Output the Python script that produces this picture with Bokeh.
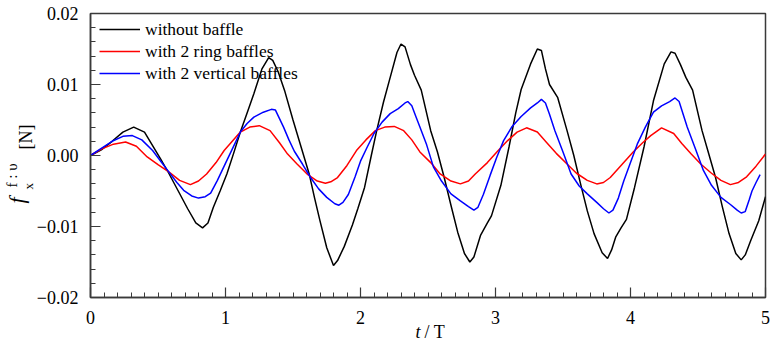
from bokeh.plotting import figure
from bokeh.models import (ColumnDataSource, FixedTicker, Legend, LegendItem, Range1d, Title)
from bokeh.embed import file_html
from bokeh.resources import INLINE

# ---- data ----
t_black = [0.00, 0.08, 0.16, 0.24, 0.32, 0.40, 0.46, 0.52, 0.58, 0.65, 0.72, 0.78, 0.83, 0.87, 0.91, 0.96,
           1.01, 1.06, 1.11, 1.16, 1.21, 1.27, 1.32, 1.35, 1.39, 1.44, 1.50, 1.56, 1.62, 1.66, 1.70, 1.75,
           1.80, 1.83, 1.88, 1.94, 1.98, 2.03, 2.08, 2.12, 2.17, 2.22, 2.27, 2.30, 2.33, 2.37, 2.40, 2.45,
           2.52, 2.57, 2.62, 2.67, 2.72, 2.77, 2.81, 2.84, 2.89, 2.94, 2.97, 3.04, 3.10, 3.15, 3.19, 3.26,
           3.31, 3.34, 3.37, 3.40, 3.46, 3.53, 3.58, 3.63, 3.68, 3.73, 3.79, 3.83, 3.86, 3.89, 3.93, 3.97,
           4.03, 4.10, 4.17, 4.25, 4.30, 4.33, 4.37, 4.41, 4.46, 4.53, 4.58, 4.63, 4.68, 4.73, 4.78, 4.82,
           4.85, 4.89, 4.95, 5.00]
f_black = [0.0, 0.0008, 0.0020, 0.0033, 0.0040, 0.0033, 0.0014, -0.0005, -0.0025, -0.0050, -0.0075, -0.0095,
           -0.0102, -0.0095, -0.0073, -0.0050, -0.0026, 0.0003, 0.0033, 0.0060, 0.0087, 0.0122, 0.0138, 0.0134,
           0.0118, 0.0090, 0.0050, 0.0012, -0.0026, -0.0060, -0.0092, -0.0130, -0.0155, -0.0148, -0.0128,
           -0.0098, -0.0075, -0.0045, 0.0000, 0.0035, 0.0075, 0.0110, 0.0145, 0.0157, 0.0153, 0.0128, 0.0113,
           0.0092, 0.0035, 0.0005, -0.0031, -0.0070, -0.0108, -0.0138, -0.0150, -0.0143, -0.0112, -0.0095,
           -0.0085, -0.0042, 0.0012, 0.0060, 0.0093, 0.0129, 0.0150, 0.0148, 0.0122, 0.0100, 0.0082, 0.0035,
           0.0000, -0.0040, -0.0078, -0.0110, -0.0137, -0.0145, -0.0133, -0.0115, -0.0102, -0.0090, -0.0045,
           0.0012, 0.0077, 0.0129, 0.0146, 0.0144, 0.0128, 0.0110, 0.0092, 0.0035, 0.0002, -0.0031, -0.0072,
           -0.0110, -0.0138, -0.0147, -0.0140, -0.0120, -0.0092, -0.0058]

t_ring = [0.00, 0.08, 0.17, 0.26, 0.34, 0.42, 0.50, 0.58, 0.66, 0.74, 0.80, 0.86, 0.93, 0.99, 1.05, 1.11,
          1.18, 1.25, 1.33, 1.40, 1.46, 1.53, 1.61, 1.68, 1.74, 1.78, 1.83, 1.90, 1.97, 2.04, 2.11, 2.18,
          2.25, 2.32, 2.38, 2.44, 2.52, 2.59, 2.67, 2.74, 2.80, 2.85, 2.94, 3.02, 3.09, 3.16, 3.23, 3.31,
          3.38, 3.45, 3.53, 3.60, 3.68, 3.75, 3.80, 3.85, 3.94, 4.02, 4.09, 4.15, 4.23, 4.32, 4.38, 4.45,
          4.52, 4.60, 4.67, 4.74, 4.80, 4.86, 4.93, 5.00]
f_ring = [0.0, 0.0009, 0.0016, 0.0019, 0.0013, -0.0002, -0.0013, -0.0023, -0.0035, -0.0041, -0.0036, -0.0026,
          -0.0010, 0.0007, 0.0020, 0.0033, 0.0040, 0.0042, 0.0035, 0.0018, 0.0002, -0.0012, -0.0027, -0.0036,
          -0.0039, -0.0037, -0.0031, -0.0014, 0.0007, 0.0022, 0.0035, 0.0040, 0.0041, 0.0035, 0.0022, 0.0005,
          -0.0010, -0.0026, -0.0036, -0.0040, -0.0036, -0.0026, -0.0010, 0.0007, 0.0021, 0.0033, 0.0039,
          0.0033, 0.0018, 0.0003, -0.0012, -0.0025, -0.0035, -0.0040, -0.0038, -0.0031, -0.0012, 0.0005,
          0.0018, 0.0028, 0.0039, 0.0031, 0.0017, 0.0002, -0.0012, -0.0025, -0.0035, -0.0041, -0.0038,
          -0.0030, -0.0015, 0.0002]

t_vert = [0.00, 0.08, 0.16, 0.24, 0.31, 0.38, 0.46, 0.52, 0.58, 0.64, 0.69, 0.75, 0.80, 0.85, 0.89, 0.94,
          0.99, 1.05, 1.11, 1.16, 1.21, 1.28, 1.34, 1.37, 1.40, 1.43, 1.47, 1.51, 1.57, 1.63, 1.69, 1.75,
          1.81, 1.84, 1.87, 1.91, 1.96, 2.00, 2.05, 2.10, 2.16, 2.22, 2.28, 2.33, 2.35, 2.38, 2.41, 2.44,
          2.49, 2.54, 2.60, 2.67, 2.74, 2.80, 2.84, 2.87, 2.91, 2.96, 3.01, 3.06, 3.12, 3.19, 3.26, 3.31,
          3.34, 3.37, 3.40, 3.44, 3.50, 3.56, 3.62, 3.68, 3.75, 3.80, 3.84, 3.87, 3.91, 3.95, 4.00, 4.05,
          4.11, 4.17, 4.23, 4.29, 4.33, 4.36, 4.39, 4.42, 4.48, 4.54, 4.60, 4.67, 4.74, 4.79, 4.82, 4.85,
          4.88, 4.90, 4.93, 4.96]
f_vert = [0.0, 0.0010, 0.0020, 0.0027, 0.0028, 0.0022, 0.0007, -0.0008, -0.0023, -0.0038, -0.0049, -0.0057,
          -0.0060, -0.0058, -0.0053, -0.0035, -0.0015, 0.0009, 0.0033, 0.0045, 0.0054, 0.0061, 0.0065, 0.0064,
          0.0052, 0.0040, 0.0022, 0.0006, -0.0012, -0.0031, -0.0047, -0.0059, -0.0068, -0.0070, -0.0066,
          -0.0055, -0.0030, -0.0008, 0.0012, 0.0031, 0.0047, 0.0059, 0.0066, 0.0074, 0.0076, 0.0070, 0.0055,
          0.0040, 0.0015, -0.0016, -0.0036, -0.0054, -0.0064, -0.0072, -0.0077, -0.0073, -0.0055, -0.0028,
          -0.0002, 0.0021, 0.0040, 0.0055, 0.0067, 0.0074, 0.0079, 0.0074, 0.0058, 0.0035, 0.0005, -0.0026,
          -0.0043, -0.0054, -0.0066, -0.0075, -0.0081, -0.0077, -0.0060, -0.0036, -0.0010, 0.0016, 0.0040,
          0.0061, 0.0070, 0.0076, 0.0081, 0.0076, 0.0058, 0.0040, 0.0010, -0.0021, -0.0042, -0.0059, -0.0069,
          -0.0077, -0.0081, -0.0079, -0.0062, -0.0050, -0.0038, -0.0027]

series_names = ["without baffle", "with 2 ring baffles", "with 2 vertical baffles"]
series_colors = ["#000000", "#ff0000", "#0000ff"]

x_ticks = [0, 1, 2, 3, 4, 5]
x_minor = [i / 10 for i in range(0, 51)]
y_ticks = [-0.02, -0.01, 0.0, 0.01, 0.02]
y_tick_labels = ["\u22120.02", "\u22120.01", "0.00", "0.01", "0.02"]
y_minor = [round(-0.02 + 0.002 * i, 4) for i in range(0, 21)]

FONT = "Liberation Serif"
AX = "#3a3a3a"

p = figure(width=772, height=349, output_backend="svg", toolbar_location=None,
           x_range=Range1d(0, 5), y_range=Range1d(-0.02, 0.02),
           min_border_left=90, min_border_right=7, min_border_top=13, min_border_bottom=52)
p.background_fill_color = "white"
p.border_fill_color = "white"
p.outline_line_color = AX
p.outline_line_width = 1.5
p.xgrid.visible = False
p.ygrid.visible = False

renderers = []
for t, f, c in zip([t_black, t_ring, t_vert], [f_black, f_ring, f_vert], series_colors):
    src = ColumnDataSource(dict(t=t, f=f))
    r = p.line("t", "f", source=src, line_color=c, line_width=1.5)
    renderers.append(r)

# main axes styling
p.xaxis.ticker = FixedTicker(ticks=x_ticks, minor_ticks=x_minor)
p.yaxis.ticker = FixedTicker(ticks=y_ticks, minor_ticks=y_minor)
p.yaxis.major_label_overrides = {v: s for v, s in zip(y_ticks, y_tick_labels)}
for ax in (p.xaxis, p.yaxis):
    ax.axis_line_color = AX
    ax.axis_line_width = 1.5
    ax.major_tick_line_color = AX
    ax.minor_tick_line_color = AX
    ax.major_tick_line_width = 1.2
    ax.minor_tick_line_width = 1.0
    ax.major_tick_in = 10
    ax.major_tick_out = 0
    ax.minor_tick_in = 5
    ax.minor_tick_out = 0
    ax.major_label_text_font = FONT
    ax.major_label_text_font_size = "18px"
    ax.major_label_text_color = "black"
p.xaxis.major_label_standoff = 13
p.yaxis.major_label_standoff = 12


# axis-title pieces as side-panel titles (offset = position along the axis from its start)
def title_piece(side, text, size, offset, standoff, valign, italic=False):
    t = Title(text=text, align="left", offset=offset, standoff=standoff, vertical_align=valign,
              text_font=FONT, text_font_size=size, text_font_style="italic" if italic else "normal",
              text_color="black")
    p.add_layout(t, side)


title_piece("left", "x", "13px", 108, -4, "bottom")
title_piece("left", "f", "22px", 94, -21, "top", italic=True)
title_piece("left", "f : \u03c5", "15px", 110, -15, "top")
title_piece("left", "[N]", "18px", 148, -48, "bottom")

title_piece("below", "t", "18px", 325, -14, "bottom", italic=True)
title_piece("below", "/ T", "18px", 334, -26, "top")

legend = Legend(items=[LegendItem(label=n, renderers=[r]) for n, r in zip(series_names, renderers)],
                location=(9, 213), margin=0, padding=0, spacing=0,
                label_text_font=FONT, label_text_font_size="17.5px", label_text_color="black",
                glyph_width=41, glyph_height=22, label_height=22, label_standoff=5,
                background_fill_alpha=0, border_line_alpha=0)
p.add_layout(legend)

open("out.html", "w").write(file_html(p, INLINE))
